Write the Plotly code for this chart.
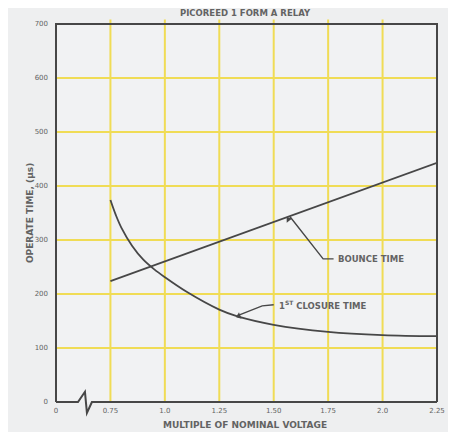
import plotly.graph_objects as go

# Data
bounce_x = [0.75, 2.25]
bounce_y = [224, 443]

closure_x = [0.75, 0.775, 0.8, 0.85, 0.9, 0.95, 1.0, 1.1, 1.25, 1.33, 1.5, 1.75, 2.0, 2.25]
closure_y = [374, 346, 323, 289, 264, 246, 231, 204, 171, 159, 143, 130, 124, 122]

x_tickvals = [0.5, 0.75, 1.0, 1.25, 1.5, 1.75, 2.0, 2.25]
x_ticktext = ["0", "0.75", "1.0", "1.25", "1.50", "1.75", "2.0", "2.25"]
y_tickvals = [0, 100, 200, 300, 400, 500, 600, 700]

BG = "#eeeff0"
INK = "#474747"
TXT = "#636363"
GRID = "#f0dc55"
FONT = "DejaVu Sans"

fig = go.Figure()

fig.add_trace(go.Scatter(x=bounce_x, y=bounce_y, mode="lines",
                         line=dict(color=INK, width=1.8), showlegend=False,
                         hoverinfo="skip"))
fig.add_trace(go.Scatter(x=closure_x, y=closure_y, mode="lines",
                         line=dict(color=INK, width=1.8, shape="spline", smoothing=1.0),
                         showlegend=False, hoverinfo="skip"))

# arrowheads of the leader lines
fig.add_trace(go.Scatter(x=[1.568, 1.34], y=[338, 159], mode="markers",
                         marker=dict(symbol="triangle-up", size=6, color=INK,
                                     angle=[-38, -112], line=dict(width=0)),
                         showlegend=False, hoverinfo="skip", cliponaxis=False))

fig.update_xaxes(range=[0.5, 2.25], tickvals=x_tickvals, ticktext=x_ticktext,
                 showgrid=False, zeroline=False, showline=False, ticks="",
                 automargin=False, ticklabelstandoff=3,
                 tickfont=dict(family=FONT, size=7, color=TXT))
fig.update_yaxes(range=[0, 700], tickvals=y_tickvals,
                 showgrid=False, zeroline=False, showline=False, ticks="",
                 automargin=False, ticklabelstandoff=7,
                 tickfont=dict(family=FONT, size=7, color=TXT))

shapes = []
# yellow grid
for gx in x_tickvals[1:-1]:
    shapes.append(dict(type="line", xref="x", yref="paper", x0=gx, x1=gx, y0=0, y1=1.012,
                       line=dict(color=GRID, width=2), layer="below"))
for gy in y_tickvals[1:-1]:
    shapes.append(dict(type="line", xref="paper", yref="y", x0=0, x1=1, y0=gy, y1=gy,
                       line=dict(color=GRID, width=2), layer="below"))
# frame
shapes.append(dict(type="path", xref="paper", yref="paper",
                   path="M 0,0 L 0,1 L 1,1 L 1,0",
                   line=dict(color=INK, width=2)))
# bottom with axis break
shapes.append(dict(type="path", xref="x", yref="paper",
                   path="M 0.5,0 L 0.601,0 L 0.633,0.027 L 0.642,-0.029 L 0.665,0 L 2.25,0",
                   line=dict(color=INK, width=2)))
# leader lines
shapes.append(dict(type="path", xref="x", yref="y",
                   path="M 1.575,343 L 1.727,265 L 1.775,265",
                   line=dict(color=INK, width=1.4)))
shapes.append(dict(type="path", xref="x", yref="y",
                   path="M 1.334,160 L 1.447,178 L 1.5,180",
                   line=dict(color=INK, width=1.4)))

annotations = [
    dict(x=1.787, y=265, xref="x", yref="y", text="<b>BOUNCE TIME</b>", showarrow=False,
         xanchor="left", yanchor="middle", font=dict(family=FONT, size=8.5, color=TXT)),
    dict(x=1.516, y=180, xref="x", yref="y", text="<b>1<sup>ST</sup> CLOSURE TIME</b>",
         showarrow=False, xanchor="left", yanchor="middle",
         font=dict(family=FONT, size=8.5, color=TXT)),
    dict(x=-0.068, y=0.5, xref="paper", yref="paper", text="<b>OPERATE TIME, (\u03bcs)</b>",
         textangle=-90, showarrow=False, xanchor="center", yanchor="middle",
         font=dict(family=FONT, size=9, color=TXT)),
    dict(x=0.496, y=-0.061, xref="paper", yref="paper", text="<b>MULTIPLE OF NOMINAL VOLTAGE</b>",
         showarrow=False, xanchor="center", yanchor="middle",
         font=dict(family=FONT, size=9, color=TXT)),
]

# the page body has an 8px margin: the figure is sized and offset for it
fig.update_layout(
    width=448, height=424,
    margin=dict(l=48, r=19, t=16, b=30),
    paper_bgcolor=BG, plot_bgcolor="#f1f2f3",
    title=dict(text="<b>PICOREED 1 FORM A RELAY</b>", x=0.529, xanchor="center",
               y=0.988, yanchor="middle", font=dict(family=FONT, size=8.5, color=TXT)),
    shapes=shapes, annotations=annotations,
)

fig.write_html("out.html")
